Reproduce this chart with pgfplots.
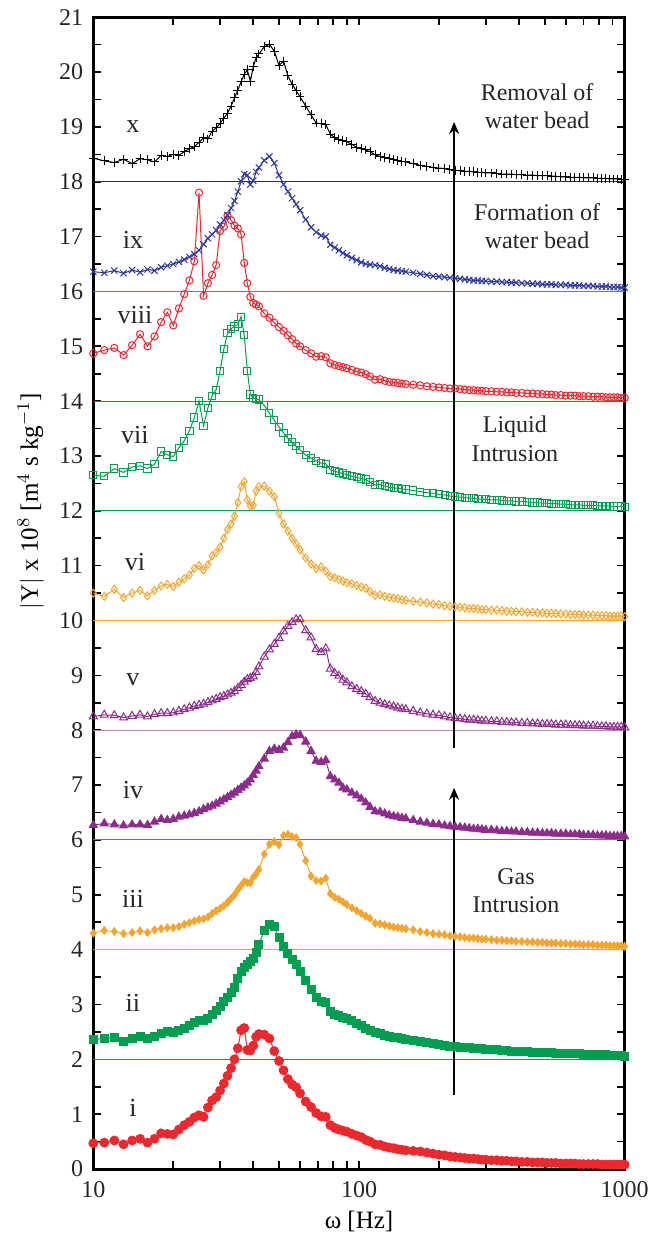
\documentclass[border=0pt]{standalone}
\usepackage{pgfplots}
\pgfplotsset{compat=1.18}
\usepackage{pgfplotstable}
\usepackage{fontspec}
\setmainfont{Liberation Serif}
\usetikzlibrary{arrows.meta}

\definecolor{cred}{RGB}{235,40,45}
\definecolor{cgreen}{RGB}{0,158,80}
\definecolor{corange}{RGB}{242,166,50}
\definecolor{cpurple}{RGB}{140,45,140}
\definecolor{cblue}{RGB}{45,55,160}

% |Y| spectra, each curve shifted by 2 units
\pgfplotstableread{
f i ii iii iv v vi vii viii ix x
10 0.47 2.36 4.30 6.27 8.25 10.50 12.65 14.87 16.36 18.43
11 0.48 2.38 4.35 6.30 8.28 10.44 12.63 14.93 16.34 18.38
12 0.52 2.40 4.33 6.28 8.27 10.57 12.77 14.97 16.38 18.35
13 0.45 2.32 4.29 6.26 8.23 10.42 12.70 14.84 16.33 18.41
14 0.52 2.38 4.31 6.28 8.26 10.50 12.80 15.02 16.39 18.33
15 0.55 2.41 4.34 6.28 8.28 10.55 12.82 15.22 16.35 18.42
16 0.48 2.38 4.31 6.27 8.25 10.45 12.77 15.00 16.40 18.40
17 0.55 2.42 4.36 6.33 8.29 10.55 12.85 15.18 16.38 18.36
18 0.65 2.47 4.38 6.38 8.31 10.63 13.08 15.44 16.44 18.48
19 0.64 2.50 4.40 6.36 8.31 10.66 13.02 15.62 16.47 18.46
20 0.63 2.49 4.40 6.38 8.32 10.62 12.99 15.38 16.50 18.50
21 0.72 2.52 4.42 6.42 8.35 10.70 13.15 15.69 16.54 18.48
22 0.80 2.57 4.46 6.44 8.38 10.76 13.28 15.95 16.58 18.55
23 0.86 2.62 4.49 6.46 8.41 10.83 13.46 16.20 16.63 18.60
24 0.94 2.67 4.52 6.49 8.44 10.95 13.70 16.55 16.68 18.64
25 0.98 2.70 4.55 6.52 8.46 11.00 14.00 17.80 16.75 18.72
26 0.95 2.71 4.56 6.56 8.48 10.92 13.55 15.92 16.86 18.80
27 1.12 2.74 4.59 6.59 8.51 11.02 13.88 16.15 16.97 18.78
28 1.25 2.82 4.66 6.62 8.54 11.18 14.10 16.30 17.04 18.92
29 1.31 2.89 4.71 6.66 8.57 11.24 14.21 16.48 17.12 18.98
30 1.43 2.96 4.75 6.70 8.60 11.34 14.55 17.10 17.22 19.06
31 1.56 3.05 4.80 6.74 8.62 11.50 14.95 17.18 17.30 19.16
32 1.70 3.13 4.86 6.78 8.65 11.66 15.24 17.38 17.39 19.25
33 1.84 3.22 4.93 6.82 8.68 11.76 15.32 17.30 17.52 19.38
34 2.00 3.31 5.00 6.86 8.71 11.90 15.36 17.20 17.65 19.53
35 2.20 3.48 5.09 6.91 8.77 12.15 15.40 17.15 17.82 19.67
36 2.53 3.60 5.17 6.95 8.82 12.44 15.54 17.04 18.01 19.82
37 2.57 3.67 5.24 6.99 8.88 12.53 15.20 16.52 18.14 19.96
38 2.17 3.73 5.22 7.04 8.93 12.20 14.55 16.15 18.12 20.04
39 2.16 3.78 5.22 7.10 8.95 12.09 14.12 15.90 17.95 19.83
40 2.25 3.84 5.32 7.18 8.98 12.10 14.05 15.79 18.02 20.10
41 2.41 3.95 5.38 7.26 9.06 12.36 14.04 15.76 18.18 20.26
42 2.46 4.10 5.46 7.34 9.16 12.44 14.03 15.73 18.26 20.33
44 2.45 4.34 5.74 7.48 9.34 12.45 13.92 15.60 18.39 20.46
46 2.38 4.45 5.92 7.62 9.47 12.36 13.78 15.52 18.46 20.51
48 2.15 4.42 5.97 7.66 9.57 12.26 13.65 15.43 18.34 20.38
50 1.97 4.22 5.91 7.64 9.68 11.95 13.53 15.35 18.12 20.12
52 1.80 4.06 6.08 7.68 9.80 11.76 13.42 15.28 17.95 20.20
54 1.64 3.93 6.10 7.78 9.90 11.63 13.32 15.20 17.82 19.93
56 1.54 3.82 6.06 7.89 9.97 11.50 13.25 15.13 17.70 19.78
58 1.49 3.73 6.04 7.92 10.02 11.40 13.18 15.05 17.59 19.66
60 1.38 3.60 5.92 7.91 10.02 11.29 13.11 15.00 17.48 19.55
63 1.23 3.44 5.62 7.79 9.82 11.14 13.02 14.93 17.31 19.38
66 1.13 3.27 5.34 7.62 9.69 11.03 12.96 14.87 17.17 19.22
69 1.02 3.12 5.26 7.44 9.48 10.95 12.91 14.81 17.08 19.07
72 0.96 3.06 5.25 7.42 9.42 10.98 12.87 14.82 17.02 19.06
75 0.95 3.03 5.30 7.45 9.49 10.90 12.86 14.80 17.00 19.04
78 0.80 2.88 5.02 7.16 9.12 10.80 12.75 14.69 16.85 18.87
81 0.75 2.82 4.95 7.10 9.04 10.78 12.72 14.66 16.80 18.80
84 0.72 2.79 4.92 7.04 8.99 10.75 12.70 14.64 16.75 18.77
87 0.70 2.77 4.87 6.95 8.92 10.72 12.68 14.62 16.70 18.75
90 0.68 2.75 4.82 6.92 8.87 10.69 12.66 14.60 16.66 18.73
94 0.64 2.70 4.76 6.86 8.80 10.67 12.63 14.57 16.61 18.68
98 0.61 2.66 4.71 6.81 8.75 10.64 12.61 14.54 16.57 18.63
102 0.58 2.62 4.66 6.75 8.71 10.61 12.59 14.52 16.53 18.60
106 0.53 2.57 4.61 6.68 8.66 10.59 12.57 14.49 16.50 18.58
110 0.50 2.53 4.57 6.60 8.60 10.53 12.52 14.45 16.49 18.55
115 0.45 2.48 4.48 6.52 8.53 10.46 12.47 14.39 16.48 18.49
120 0.44 2.47 4.47 6.51 8.50 10.47 12.48 14.40 16.46 18.46
125 0.41 2.44 4.45 6.48 8.47 10.44 12.45 14.37 16.43 18.44
130 0.39 2.42 4.43 6.45 8.45 10.42 12.43 14.35 16.41 18.42
135 0.38 2.40 4.41 6.43 8.43 10.41 12.42 14.34 16.39 18.40
140 0.36 2.39 4.40 6.42 8.41 10.40 12.41 14.33 16.38 18.38
145 0.35 2.38 4.39 6.40 8.39 10.38 12.40 14.32 16.37 18.37
150 0.34 2.37 4.38 6.39 8.38 10.37 12.39 14.31 16.36 18.36
160 0.33 2.35 4.36 6.36 8.35 10.35 12.37 14.30 16.34 18.33
170 0.32 2.32 4.33 6.33 8.32 10.34 12.35 14.29 16.32 18.30
180 0.30 2.30 4.31 6.31 8.30 10.32 12.33 14.27 16.30 18.28
190 0.28 2.28 4.29 6.29 8.28 10.30 12.32 14.26 16.28 18.26
200 0.26 2.27 4.28 6.28 8.27 10.29 12.30 14.25 16.27 18.25
210 0.25 2.26 4.27 6.26 8.25 10.27 12.29 14.24 16.26 18.24
220 0.23 2.24 4.25 6.25 8.23 10.26 12.27 14.23 16.25 18.22
230 0.22 2.23 4.24 6.24 8.22 10.25 12.26 14.23 16.24 18.21
240 0.21 2.22 4.23 6.23 8.21 10.24 12.25 14.22 16.23 18.20
250 0.20 2.21 4.22 6.22 8.20 10.23 12.24 14.21 16.22 18.19
260 0.19 2.21 4.21 6.21 8.19 10.22 12.23 14.20 16.21 18.19
270 0.19 2.20 4.21 6.20 8.19 10.22 12.23 14.20 16.20 18.18
280 0.18 2.19 4.20 6.20 8.18 10.21 12.22 14.19 16.20 18.17
290 0.17 2.19 4.19 6.19 8.17 10.20 12.21 14.19 16.19 18.17
300 0.17 2.18 4.19 6.18 8.17 10.20 12.21 14.18 16.19 18.16
315 0.16 2.17 4.18 6.18 8.16 10.19 12.20 14.18 16.18 18.16
330 0.16 2.17 4.17 6.17 8.16 10.19 12.20 14.17 16.18 18.15
345 0.15 2.16 4.17 6.16 8.15 10.18 12.19 14.17 16.17 18.14
360 0.15 2.16 4.16 6.16 8.15 10.17 12.18 14.16 16.17 18.14
375 0.14 2.15 4.16 6.15 8.14 10.17 12.18 14.16 16.16 18.14
390 0.14 2.15 4.15 6.15 8.14 10.16 12.17 14.15 16.16 18.13
410 0.13 2.14 4.15 6.14 8.13 10.16 12.17 14.15 16.15 18.13
430 0.13 2.14 4.14 6.14 8.13 10.15 12.16 14.14 16.15 18.12
450 0.12 2.13 4.14 6.13 8.12 10.15 12.15 14.14 16.14 18.12
470 0.12 2.13 4.13 6.13 8.12 10.14 12.15 14.13 16.14 18.11
490 0.12 2.12 4.13 6.12 8.11 10.14 12.14 14.13 16.13 18.11
510 0.11 2.12 4.12 6.12 8.11 10.13 12.14 14.12 16.13 18.11
530 0.11 2.12 4.12 6.12 8.11 10.13 12.13 14.12 16.13 18.10
550 0.11 2.11 4.12 6.11 8.10 10.13 12.13 14.11 16.12 18.10
575 0.10 2.11 4.11 6.11 8.10 10.12 12.12 14.11 16.12 18.09
600 0.10 2.11 4.11 6.11 8.10 10.12 12.12 14.10 16.12 18.09
625 0.10 2.10 4.10 6.10 8.09 10.11 12.11 14.10 16.11 18.08
650 0.10 2.10 4.10 6.10 8.09 10.11 12.11 14.10 16.11 18.08
675 0.09 2.10 4.10 6.10 8.09 10.11 12.11 14.09 16.11 18.08
700 0.09 2.09 4.09 6.09 8.08 10.10 12.10 14.09 16.10 18.07
730 0.09 2.09 4.09 6.09 8.08 10.10 12.10 14.09 16.10 18.07
760 0.09 2.09 4.09 6.09 8.08 10.10 12.10 14.08 16.10 18.07
790 0.09 2.08 4.08 6.08 8.07 10.09 12.09 14.08 16.09 18.06
820 0.08 2.08 4.08 6.08 8.07 10.09 12.09 14.08 16.09 18.06
850 0.08 2.08 4.08 6.08 8.07 10.09 12.09 14.07 16.09 18.06
880 0.08 2.07 4.07 6.07 8.06 10.08 12.08 14.07 16.08 18.05
910 0.08 2.07 4.07 6.07 8.06 10.08 12.08 14.07 16.08 18.05
940 0.08 2.07 4.07 6.07 8.06 10.08 12.08 14.07 16.08 18.05
970 0.08 2.07 4.07 6.07 8.06 10.08 12.08 14.06 16.07 18.04
1000 0.08 2.06 4.06 6.06 8.05 10.07 12.07 14.06 16.07 18.04
}\spectra

\begin{document}
\begin{tikzpicture}
\useasboundingbox (-46.65pt,-33.5pt) rectangle (279.35pt,584.5pt);
\begin{axis}[
  at={(0pt,0pt)}, anchor=south west,
  scale only axis,
  width=265.7pt, height=575.9pt,
  xmode=log,
  xmin=10, xmax=1000,
  ymin=0, ymax=21,
  xtick={10,100,1000},
  xticklabels={10,100,1000},
  ytick={0,1,...,21},
  minor y tick num=1,
  tick align=inside,
  major tick length=4pt,
  minor tick length=4pt,
  every tick/.style={black, line width=0.8pt},
  axis line style={line width=1.5pt},
  /pgf/number format/assume math mode=true,
  tick label style={font=\fontsize{12}{14}\selectfont, black!85},
  xticklabel style={yshift=-2.5pt},
  yticklabel style={xshift=-1.5pt},
  xlabel={ω [Hz]},
  xlabel style={font=\fontsize{12.5}{14}\selectfont, yshift=0pt},
  ylabel={$\bigl|$Y$\bigr|$ x 10$^{8}$ [m$^{4}$ s kg$^{-1}$]},
  ylabel style={font=\fontsize{12.5}{14}\selectfont, at={(rel axis cs:-0.118,0.58)}, anchor=center},
  every axis plot/.append style={line width=0.5pt},
  every mark/.append style={solid, line width=0.6pt},
]
% baselines
\addplot[cgreen, line width=0.5pt, forget plot] coordinates {(10,2) (1000,2)};
\addplot[corange, line width=0.5pt, forget plot] coordinates {(10,4) (1000,4)};
\addplot[cpurple!80, line width=0.5pt, forget plot] coordinates {(10,6) (1000,6)};
\addplot[cpurple!60, line width=0.5pt, forget plot] coordinates {(10,8) (1000,8)};
\addplot[corange, line width=0.5pt, forget plot] coordinates {(10,10) (1000,10)};
\addplot[cgreen, line width=0.5pt, forget plot] coordinates {(10,12) (1000,12)};
\addplot[cred, line width=0.5pt, forget plot] coordinates {(10,14) (1000,14)};
\addplot[cblue!70, line width=0.5pt, forget plot] coordinates {(10,16) (1000,16)};
\addplot[black!80, line width=0.5pt, forget plot] coordinates {(10,18) (1000,18)};

% curves
\addplot[cred, mark=*, mark size=2.2pt] table[x=f,y=i]{\spectra};
\addplot[cgreen, mark=square*, mark size=2pt] table[x=f,y=ii]{\spectra};
\addplot[corange, mark=diamond*, mark size=1.9pt] table[x=f,y=iii]{\spectra};
\addplot[cpurple, mark=triangle*, mark size=2.3pt] table[x=f,y=iv]{\spectra};
\addplot[cpurple, mark=triangle, mark size=2.3pt] table[x=f,y=v]{\spectra};
\addplot[corange, mark=diamond, mark size=2pt] table[x=f,y=vi]{\spectra};
\addplot[cgreen, mark=square, mark size=1.8pt] table[x=f,y=vii]{\spectra};
\addplot[cred, mark=o, mark size=1.8pt] table[x=f,y=viii]{\spectra};
\addplot[cblue, mark=x, mark size=2.2pt] table[x=f,y=ix]{\spectra};
\addplot[black, mark=+, mark size=2.2pt] table[x=f,y=x]{\spectra};

% arrows
\draw[line width=1.3pt, -{Stealth[length=6pt,width=5pt]}] (axis cs:228,7.68) -- (axis cs:228,19.09);
\draw[line width=1.3pt, -{Stealth[length=6pt,width=5pt]}] (axis cs:228,1.35) -- (axis cs:228,6.95);

% annotations
\begin{scope}[every node/.style={align=center, font=\fontsize{12}{14.2}\selectfont, black!85}]
\node at (axis cs:468,19.38) {Removal of\\water bead};
\node at (axis cs:468,17.19) {Formation of\\water bead};
\node at (axis cs:386,13.31) {Liquid\\Intrusion};
\node at (axis cs:390,5.08) {Gas\\Intrusion};
\end{scope}
\begin{scope}[every node/.style={font=\fontsize{13}{15}\selectfont, black!85}]
\node at (axis cs:14.1,19.0) {x};
\node at (axis cs:14.1,16.94) {ix};
\node at (axis cs:14.35,15.57) {viii};
\node at (axis cs:14.35,13.38) {vii};
\node at (axis cs:14.35,11.07) {vi};
\node at (axis cs:14.1,8.92) {v};
\node at (axis cs:14.1,6.91) {iv};
\node at (axis cs:14.1,4.93) {iii};
\node at (axis cs:14.1,3.02) {ii};
\node at (axis cs:14.1,1.11) {i};
\end{scope}
\end{axis}
\end{tikzpicture}
\end{document}
